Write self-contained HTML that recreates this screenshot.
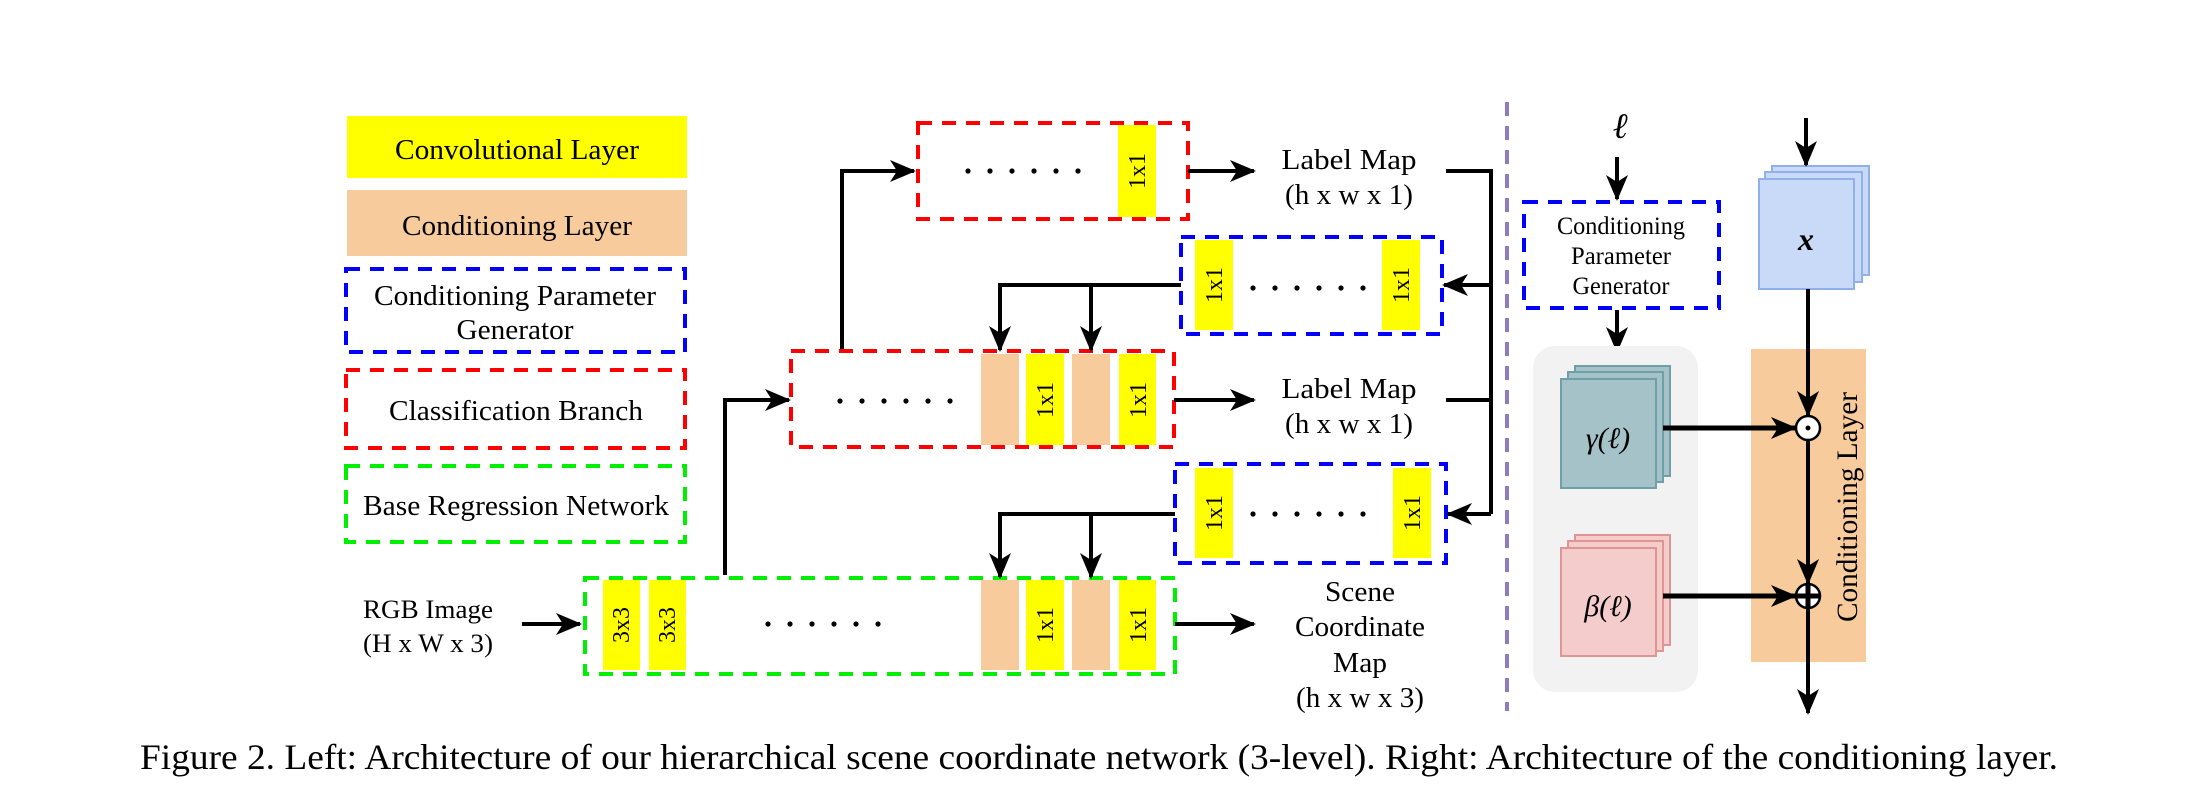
<!DOCTYPE html>
<html><head><meta charset="utf-8"><style>
html,body{margin:0;padding:0;background:#fff}
svg{display:block}
text{font-family:"Liberation Serif",serif;fill:#000}
</style></head><body>
<svg width="2203" height="810" viewBox="0 0 2203 810" xmlns="http://www.w3.org/2000/svg">
<defs>
<marker id="ab" markerWidth="26" markerHeight="22" refX="24" refY="11" orient="auto" markerUnits="userSpaceOnUse">
<path d="M0,0 L26,11 L0,22 L7,11 z" fill="#000"/>
</marker>
<g id="dots6"><circle cx="0" cy="0" r="2.6"/><circle cx="22" cy="0" r="2.6"/><circle cx="44" cy="0" r="2.6"/><circle cx="66" cy="0" r="2.6"/><circle cx="88" cy="0" r="2.6"/><circle cx="110" cy="0" r="2.6"/></g>
</defs>
<!-- legend -->
<rect x="347" y="116" width="340" height="62" fill="#ffff00"/>
<text x="517" y="159" font-size="29" text-anchor="middle" textLength="244" lengthAdjust="spacingAndGlyphs">Convolutional Layer</text>
<rect x="347" y="190" width="340" height="66" fill="#f8cb9c"/>
<text x="517" y="235" font-size="29" text-anchor="middle" textLength="230" lengthAdjust="spacingAndGlyphs">Conditioning Layer</text>
<rect x="346" y="269" width="339" height="83" fill="none" stroke="#0000ff" stroke-width="4" stroke-dasharray="14,10"/>
<text x="515" y="305" font-size="29" text-anchor="middle" textLength="282" lengthAdjust="spacingAndGlyphs">Conditioning Parameter</text>
<text x="515" y="339" font-size="29" text-anchor="middle" textLength="117" lengthAdjust="spacingAndGlyphs">Generator</text>
<rect x="346" y="370" width="339" height="78" fill="none" stroke="#ff0000" stroke-width="4" stroke-dasharray="14,10"/>
<text x="516" y="420" font-size="29" text-anchor="middle" textLength="254" lengthAdjust="spacingAndGlyphs">Classification Branch</text>
<rect x="346" y="466" width="339" height="76" fill="none" stroke="#00ee00" stroke-width="4" stroke-dasharray="14,10"/>
<text x="516" y="515" font-size="29" text-anchor="middle" textLength="306" lengthAdjust="spacingAndGlyphs">Base Regression Network</text>
<!-- RGB -->
<text x="428" y="618" font-size="26" text-anchor="middle" textLength="130" lengthAdjust="spacingAndGlyphs">RGB Image</text>
<text x="428" y="652" font-size="26" text-anchor="middle" textLength="130" lengthAdjust="spacingAndGlyphs">(H x W x 3)</text>
<line x1="522" y1="624" x2="580" y2="624" stroke="#000" stroke-width="4" marker-end="url(#ab)"/>
<!-- green box -->
<rect x="585" y="578" width="590" height="96" fill="none" stroke="#00ee00" stroke-width="4" stroke-dasharray="14,10"/>
<rect x="603" y="580" width="37" height="90" fill="#ffff00"/>
<rect x="649" y="580" width="37" height="90" fill="#ffff00"/>
<text transform="translate(629,625) rotate(-90)" font-size="24" text-anchor="middle">3x3</text>
<text transform="translate(675,625) rotate(-90)" font-size="24" text-anchor="middle">3x3</text>
<use href="#dots6" x="768" y="624"/>
<rect x="981" y="580" width="38" height="90" fill="#f8cb9c"/>
<rect x="1026" y="580" width="38" height="90" fill="#ffff00"/>
<rect x="1072" y="580" width="38" height="90" fill="#f8cb9c"/>
<rect x="1119" y="580" width="37" height="90" fill="#ffff00"/>
<text transform="translate(1053,625) rotate(-90)" font-size="24" text-anchor="middle">1x1</text>
<text transform="translate(1146,625) rotate(-90)" font-size="24" text-anchor="middle">1x1</text>
<!-- mid red -->
<rect x="791" y="351" width="383" height="96" fill="none" stroke="#ff0000" stroke-width="4" stroke-dasharray="14,10"/>
<use href="#dots6" x="840" y="401"/>
<rect x="981" y="354" width="38" height="91" fill="#f8cb9c"/>
<rect x="1026" y="354" width="38" height="91" fill="#ffff00"/>
<rect x="1072" y="354" width="38" height="91" fill="#f8cb9c"/>
<rect x="1119" y="354" width="37" height="91" fill="#ffff00"/>
<text transform="translate(1053,400) rotate(-90)" font-size="24" text-anchor="middle">1x1</text>
<text transform="translate(1146,400) rotate(-90)" font-size="24" text-anchor="middle">1x1</text>
<!-- top red -->
<rect x="918" y="123" width="270" height="96" fill="none" stroke="#ff0000" stroke-width="4" stroke-dasharray="14,10"/>
<use href="#dots6" x="968" y="171"/>
<rect x="1118" y="125" width="38" height="92" fill="#ffff00"/>
<text transform="translate(1145,171) rotate(-90)" font-size="24" text-anchor="middle">1x1</text>
<!-- connectors left -->
<polyline points="725,575 725,400 789,400" fill="none" stroke="#000" stroke-width="4" marker-end="url(#ab)"/>
<polyline points="842,349 842,171 914,171" fill="none" stroke="#000" stroke-width="4" marker-end="url(#ab)"/>
<!-- upper blue -->
<rect x="1181" y="237" width="261" height="97" fill="none" stroke="#0000ff" stroke-width="4" stroke-dasharray="14,10"/>
<rect x="1195" y="240" width="38" height="90" fill="#ffff00"/>
<rect x="1382" y="240" width="38" height="90" fill="#ffff00"/>
<text transform="translate(1222,285) rotate(-90)" font-size="24" text-anchor="middle">1x1</text>
<text transform="translate(1409,285) rotate(-90)" font-size="24" text-anchor="middle">1x1</text>
<use href="#dots6" x="1253" y="288"/>
<polyline points="1181,285 1000,285" fill="none" stroke="#000" stroke-width="4"/>
<line x1="1000" y1="283" x2="1000" y2="350" stroke="#000" stroke-width="4" marker-end="url(#ab)"/>
<line x1="1091" y1="285" x2="1091" y2="350" stroke="#000" stroke-width="4" marker-end="url(#ab)"/>
<!-- lower blue -->
<rect x="1175" y="464" width="271" height="99" fill="none" stroke="#0000ff" stroke-width="4" stroke-dasharray="14,10"/>
<rect x="1195" y="468" width="38" height="90" fill="#ffff00"/>
<rect x="1393" y="468" width="38" height="90" fill="#ffff00"/>
<text transform="translate(1222,513) rotate(-90)" font-size="24" text-anchor="middle">1x1</text>
<text transform="translate(1420,513) rotate(-90)" font-size="24" text-anchor="middle">1x1</text>
<use href="#dots6" x="1253" y="514"/>
<polyline points="1175,514 1000,514" fill="none" stroke="#000" stroke-width="4"/>
<line x1="1000" y1="512" x2="1000" y2="577" stroke="#000" stroke-width="4" marker-end="url(#ab)"/>
<line x1="1091" y1="514" x2="1091" y2="577" stroke="#000" stroke-width="4" marker-end="url(#ab)"/>
<!-- outputs -->
<line x1="1188" y1="171" x2="1254" y2="171" stroke="#000" stroke-width="4" marker-end="url(#ab)"/>
<line x1="1174" y1="400" x2="1254" y2="400" stroke="#000" stroke-width="4" marker-end="url(#ab)"/>
<line x1="1175" y1="624" x2="1254" y2="624" stroke="#000" stroke-width="4" marker-end="url(#ab)"/>
<text x="1349" y="169" font-size="28" text-anchor="middle" textLength="135" lengthAdjust="spacingAndGlyphs">Label  Map</text>
<text x="1349" y="204" font-size="28" text-anchor="middle" textLength="128" lengthAdjust="spacingAndGlyphs">(h x w x 1)</text>
<text x="1349" y="398" font-size="28" text-anchor="middle" textLength="135" lengthAdjust="spacingAndGlyphs">Label  Map</text>
<text x="1349" y="433" font-size="28" text-anchor="middle" textLength="128" lengthAdjust="spacingAndGlyphs">(h x w x 1)</text>
<text x="1360" y="601" font-size="28" text-anchor="middle" textLength="70" lengthAdjust="spacingAndGlyphs">Scene</text>
<text x="1360" y="636" font-size="28" text-anchor="middle" textLength="130" lengthAdjust="spacingAndGlyphs">Coordinate</text>
<text x="1360" y="672" font-size="28" text-anchor="middle" textLength="54" lengthAdjust="spacingAndGlyphs">Map</text>
<text x="1360" y="707" font-size="28" text-anchor="middle" textLength="128" lengthAdjust="spacingAndGlyphs">(h x w x 3)</text>
<!-- collector -->
<polyline points="1446,171 1491,171 1491,514" fill="none" stroke="#000" stroke-width="4"/>
<line x1="1446" y1="400" x2="1491" y2="400" stroke="#000" stroke-width="4"/>
<line x1="1491" y1="285" x2="1444" y2="285" stroke="#000" stroke-width="4" marker-end="url(#ab)"/>
<line x1="1491" y1="514" x2="1448" y2="514" stroke="#000" stroke-width="4" marker-end="url(#ab)"/>
<!-- divider -->
<line x1="1507" y1="102" x2="1507" y2="711" stroke="#8e7cc3" stroke-width="4" stroke-dasharray="14,10"/>
<!-- right -->
<text x="1621" y="138" font-size="36" font-style="italic" font-weight="bold" text-anchor="middle">ℓ</text>
<line x1="1617" y1="157" x2="1617" y2="199" stroke="#000" stroke-width="4" marker-end="url(#ab)"/>
<rect x="1524" y="202" width="195" height="106" fill="none" stroke="#0000ff" stroke-width="4" stroke-dasharray="14,10"/>
<text x="1621" y="234" font-size="25" text-anchor="middle" textLength="128" lengthAdjust="spacingAndGlyphs">Conditioning</text>
<text x="1621" y="264" font-size="25" text-anchor="middle" textLength="100" lengthAdjust="spacingAndGlyphs">Parameter</text>
<text x="1621" y="294" font-size="25" text-anchor="middle" textLength="97" lengthAdjust="spacingAndGlyphs">Generator</text>
<line x1="1617" y1="310" x2="1617" y2="351" stroke="#000" stroke-width="4" marker-end="url(#ab)"/>
<rect x="1533" y="346" width="165" height="346" rx="22" fill="#f2f2f2"/>
<rect x="1575" y="366" width="95" height="110" fill="#a4c2c8" stroke="#6fa0a8" stroke-width="2"/>
<rect x="1568" y="372" width="95" height="110" fill="#a4c2c8" stroke="#6fa0a8" stroke-width="2"/>
<rect x="1561" y="379" width="95" height="109" fill="#a4c2c8" stroke="#6fa0a8" stroke-width="2"/>
<text x="1608" y="448" font-size="30" font-style="italic" text-anchor="middle">γ(ℓ)</text>
<rect x="1575" y="535" width="95" height="110" fill="#f4cccc" stroke="#e09595" stroke-width="2"/>
<rect x="1568" y="541" width="95" height="110" fill="#f4cccc" stroke="#e09595" stroke-width="2"/>
<rect x="1561" y="548" width="95" height="108" fill="#f4cccc" stroke="#e09595" stroke-width="2"/>
<text x="1608" y="616" font-size="30" font-style="italic" text-anchor="middle">β(ℓ)</text>
<rect x="1751" y="349" width="115" height="313" fill="#f8cb9c"/>
<text transform="translate(1857,507) rotate(-90)" font-size="30" text-anchor="middle" textLength="230" lengthAdjust="spacingAndGlyphs">Conditioning Layer</text>
<rect x="1772" y="166" width="97" height="109" fill="#c9daf8" stroke="#8fb0ea" stroke-width="2"/>
<rect x="1765" y="172" width="97" height="110" fill="#c9daf8" stroke="#8fb0ea" stroke-width="2"/>
<rect x="1759" y="179" width="95" height="110" fill="#c9daf8" stroke="#8fb0ea" stroke-width="2"/>
<text x="1806" y="250" font-size="32" font-style="italic" font-weight="bold" text-anchor="middle">x</text>
<line x1="1806" y1="118" x2="1806" y2="165" stroke="#000" stroke-width="4" marker-end="url(#ab)"/>
<line x1="1808" y1="289" x2="1808" y2="415" stroke="#000" stroke-width="4" marker-end="url(#ab)"/>
<line x1="1808" y1="440" x2="1808" y2="583" stroke="#000" stroke-width="4" marker-end="url(#ab)"/>
<line x1="1808" y1="608" x2="1808" y2="713" stroke="#000" stroke-width="4" marker-end="url(#ab)"/>
<line x1="1663" y1="428" x2="1795" y2="428" stroke="#000" stroke-width="5" marker-end="url(#ab)"/>
<line x1="1663" y1="596" x2="1795" y2="596" stroke="#000" stroke-width="5" marker-end="url(#ab)"/>
<circle cx="1808" cy="428" r="12" fill="#fff" stroke="#000" stroke-width="2.5"/>
<circle cx="1808" cy="428" r="2.5" fill="#000"/>
<circle cx="1808" cy="596" r="12" fill="#fff" stroke="#000" stroke-width="2.5"/>
<line x1="1796" y1="596" x2="1820" y2="596" stroke="#000" stroke-width="5"/>
<line x1="1808" y1="584" x2="1808" y2="608" stroke="#000" stroke-width="5"/>
<!-- caption -->
<text x="140" y="769" font-size="36" textLength="1918" lengthAdjust="spacingAndGlyphs">Figure 2. Left: Architecture of our hierarchical scene coordinate network (3-level). Right: Architecture of the conditioning layer.</text>
</svg>
</body></html>
